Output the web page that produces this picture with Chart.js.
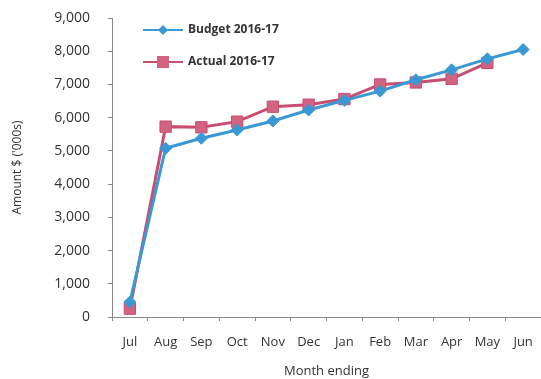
<!DOCTYPE html>
<html>
<head>
<meta charset="utf-8">
<script src="https://cdn.jsdelivr.net/npm/chart.js@4"></script>
<style>
    html, body { margin: 0; padding: 0; background: #fff; }
    #wrap { width: 541px; height: 379px; }
</style>
</head>
<body>
<div id="wrap"><canvas id="myChart" width="541" height="379"></canvas></div>
<script>
const months = ['Jul', 'Aug', 'Sep', 'Oct', 'Nov', 'Dec', 'Jan', 'Feb', 'Mar', 'Apr', 'May', 'Jun'];
const budget = [450, 5080, 5380, 5630, 5900, 6230, 6520, 6800, 7140, 7440, 7770, 8050];
const actual = [250, 5730, 5710, 5880, 6330, 6390, 6560, 7000, 7060, 7170, 7650, null];
const seriesNames = ['Budget 2016-17', 'Actual 2016-17'];

const blue = 'rgb(58, 152, 212)';
const pink = 'rgb(200, 78, 112)';
const pinkFill = 'rgb(210, 100, 130)';

// legend drawn inside the plot area, stacked in the top left
const innerLegend = {
    id: 'innerLegend',
    afterDraw(chart) {
        const ctx = chart.ctx;
        const rows = [30, 62];
        chart.data.datasets.forEach(function (ds, i) {
            const y = rows[i];
            ctx.save();
            ctx.strokeStyle = ds.borderColor;
            ctx.lineWidth = 2;
            ctx.beginPath();
            ctx.moveTo(143, y);
            ctx.lineTo(183, y);
            ctx.stroke();
            ctx.fillStyle = ds.pointBackgroundColor;
            if (ds.pointStyle === 'rectRot') {
                ctx.beginPath();
                ctx.moveTo(163, y - 5);
                ctx.lineTo(168, y);
                ctx.lineTo(163, y + 5);
                ctx.lineTo(158, y);
                ctx.closePath();
                ctx.fill();
            } else {
                ctx.fillRect(157, y - 6, 12, 12);
            }
            ctx.fillStyle = '#333';
            ctx.font = 'bold 12px "Open Sans", sans-serif';
            ctx.textBaseline = 'middle';
            ctx.fillText(ds.label, 188, y);
            ctx.restore();
        });
    }
};

const config = {
    type: 'line',
    data: {
        labels: months,
        datasets: [{
            label: seriesNames[0],
            data: budget,
            borderColor: blue,
            borderWidth: 3,
            pointStyle: 'rectRot',
            pointRadius: 6,
            pointBackgroundColor: blue,
            pointBorderColor: blue,
            pointBorderWidth: 1,
            tension: 0,
            clip: false
        }, {
            label: seriesNames[1],
            data: actual,
            borderColor: pink,
            borderWidth: 3,
            pointStyle: 'rect',
            pointRadius: 8,
            pointBackgroundColor: pinkFill,
            pointBorderColor: pink,
            pointBorderWidth: 1,
            tension: 0,
            clip: false
        }]
    },
    options: {
        responsive: false,
        animation: false,
        layout: { autoPadding: false, padding: { top: 18, right: 0, left: 0, bottom: 0 } },
        plugins: {
            legend: { display: false },
            tooltip: { enabled: false }
        },
        scales: {
            x: {
                offset: true,
                grid: {
                    display: true,
                    offset: true,
                    drawOnChartArea: false,
                    drawTicks: true,
                    tickLength: 4,
                    color: '#888'
                },
                border: { color: '#888', width: 1 },
                ticks: {
                    color: '#333',
                    // tall line box pushes the month names down without widening the axis padding
                    font: { family: '"Open Sans", sans-serif', size: 13, lineHeight: 2.9 },
                    padding: 2,
                    maxRotation: 0,
                    autoSkip: false
                },
                title: {
                    display: true,
                    text: 'Month ending',
                    color: '#333',
                    font: { family: '"Open Sans", sans-serif', size: 13 },
                    padding: { top: 6, bottom: 0 }
                },
                afterFit(scale) { scale.height = 62; }
            },
            y: {
                min: 0,
                max: 9000,
                grid: {
                    display: true,
                    drawOnChartArea: false,
                    drawTicks: true,
                    tickLength: 4,
                    color: '#888'
                },
                border: { color: '#888', width: 1 },
                ticks: {
                    stepSize: 1000,
                    color: '#333',
                    font: { family: '"Open Sans", sans-serif', size: 14 },
                    padding: 18
                },
                title: {
                    display: true,
                    text: "Amount $ ('000s)",
                    color: '#333',
                    font: { family: '"Open Sans", sans-serif', size: 12 },
                    padding: { top: 10, bottom: 0 }
                },
                afterFit(scale) {
                    scale.width = 112;
                    // top edge comes from layout.padding only
                    scale.paddingTop = 0;
                }
            }
        }
    },
    plugins: [innerLegend]
};

const myChart = new Chart(document.getElementById('myChart').getContext('2d'), config);
</script>
</body>
</html>
